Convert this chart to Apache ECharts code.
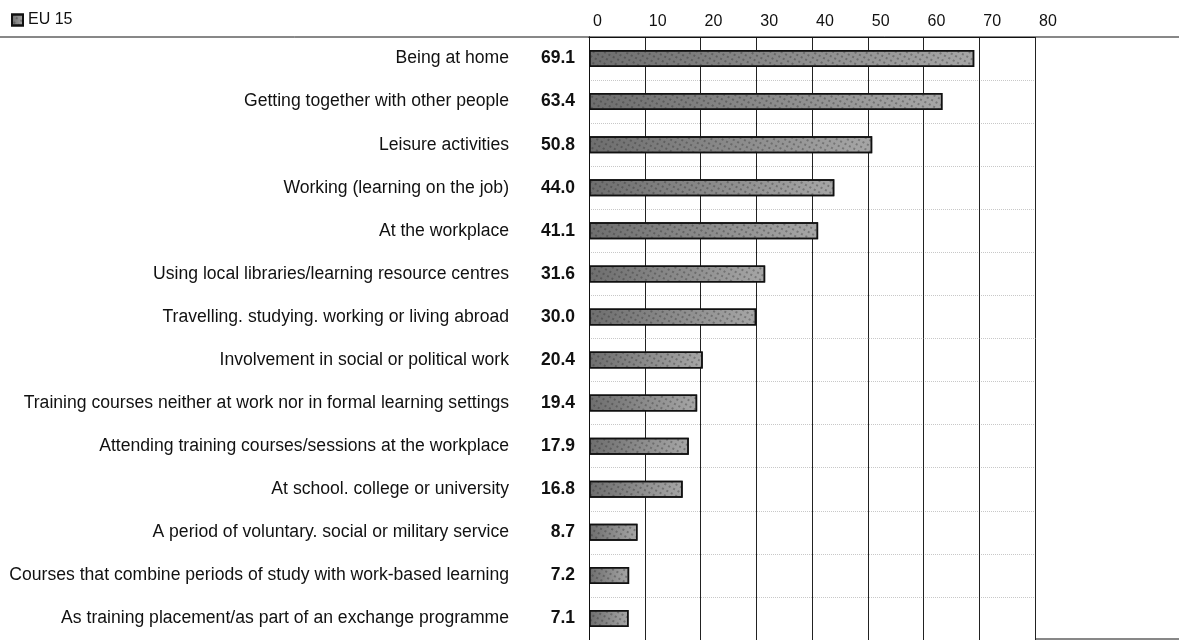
<!DOCTYPE html>
<html>
<head>
<meta charset="utf-8">
<script src="https://cdn.jsdelivr.net/npm/echarts@6/dist/echarts.min.js"></script>
<style>
  html, body { margin: 0; padding: 0; background: #fff; }
  #chart { width: 1179px; height: 640px; }
</style>
</head>
<body>
<div id="chart"></div>
<script>
// categories, top to bottom
const categories = [
  'Being at home',
  'Getting together with other people',
  'Leisure activities',
  'Working (learning on the job)',
  'At the workplace',
  'Using local libraries/learning resource centres',
  'Travelling. studying. working or living abroad',
  'Involvement in social or political work',
  'Training courses neither at work nor in formal learning settings',
  'Attending training courses/sessions at the workplace',
  'At school. college or university',
  'A period of voluntary. social or military service',
  'Courses that combine periods of study with work-based learning',
  'As training placement/as part of an exchange programme'
];
const eu15 = [69.1, 63.4, 50.8, 44.0, 41.1, 31.6, 30.0, 20.4, 19.4, 17.9, 16.8, 8.7, 7.2, 7.1];
const seriesName = 'EU 15';

// no condensed face installed, so plain Liberation Sans sized to the original widths
const font = '"Liberation Sans", Arial, sans-serif';

const chart = echarts.init(document.getElementById('chart'));

chart.setOption({
  backgroundColor: '#fff',
  animation: false,
  textStyle: { fontFamily: font, color: '#111' },
  legend: {
    left: 6,
    top: 7,
    itemWidth: 11,
    itemHeight: 11,
    itemGap: 9,
    icon: 'rect',
    textStyle: { fontSize: 16, color: '#111', fontFamily: font },
    data: [seriesName]
  },
  grid: { left: 589, right: 144, top: 37, bottom: 0, containLabel: false, outerBoundsMode: 'none' },
  xAxis: {
    type: 'value',
    position: 'top',
    min: 0,
    max: 80,
    interval: 10,
    axisLine: { show: true, lineStyle: { color: '#111', width: 1 } },
    axisTick: { show: false },
    axisLabel: {
      fontSize: 16,
      color: '#111',
      fontFamily: font,
      margin: 7,
      align: 'left',
      padding: [0, 0, 0, 4]
    },
    splitLine: { show: true, lineStyle: { color: '#222', width: 1 } }
  },
  yAxis: [
    {
      type: 'category',
      inverse: true,
      position: 'left',
      offset: 62,
      data: categories,
      axisLine: { show: true, lineStyle: { color: '#222', width: 1 } },
      axisTick: { show: false },
      axisLabel: { fontSize: 17.6, color: '#111', fontFamily: font, margin: 18 },
      splitLine: { show: true, lineStyle: { color: '#c8c8c8', type: 'dotted', width: 1 } }
    },
    {
      type: 'category',
      inverse: true,
      position: 'left',
      offset: 0,
      data: categories,
      axisLine: { show: true, lineStyle: { color: '#111', width: 1 } },
      axisTick: { show: false },
      axisLabel: {
        margin: 14,
        fontSize: 17.5,
        fontWeight: 'bold',
        color: '#111',
        fontFamily: font,
        formatter: (v, i) => eu15[i].toFixed(1)
      }
    }
  ],
  series: [{
    name: seriesName,
    type: 'bar',
    yAxisIndex: 0,
    data: eu15,
    barWidth: 17,
    itemStyle: {
      color: new echarts.graphic.LinearGradient(0, 0, 1, 0, [
        { offset: 0, color: '#6e6e6e' },
        { offset: 1, color: '#a6a6a6' }
      ]),
      borderColor: '#111',
      borderWidth: 1.5,
      decal: {
        symbol: 'rect',
        symbolSize: 1,
        color: 'rgba(40,40,40,0.35)',
        dashArrayX: [2, 3],
        dashArrayY: [2, 3],
        rotation: 0.5
      }
    }
  }],
  graphic: [
    { type: 'line', shape: { x1: 0, y1: 37, x2: 1179, y2: 37 }, style: { stroke: '#111', lineWidth: 1 } },
    { type: 'line', shape: { x1: 1035, y1: 639, x2: 1179, y2: 639 }, style: { stroke: '#111', lineWidth: 1 } }
  ]
});
</script>
</body>
</html>
